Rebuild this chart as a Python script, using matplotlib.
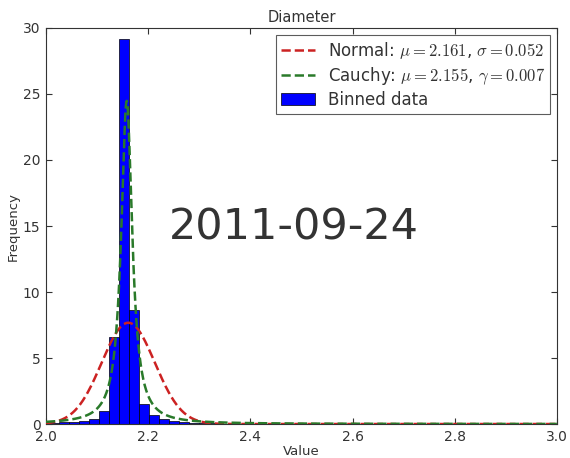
import matplotlib
matplotlib.use("Agg")
import matplotlib.pyplot as plt
import numpy as np

# histogram (density)
bin_start = 2.006
bin_width = 0.0196
bin_heights = [0.08, 0.12, 0.18, 0.25, 0.35, 1.0, 6.57, 29.2, 8.64, 1.49,
               0.68, 0.35, 0.2, 0.12, 0.08, 0.05, 0.04, 0.03, 0.02, 0.02,
               0.02, 0.01, 0.01, 0.01, 0.01, 0.01, 0.01, 0.01, 0.01, 0.01]

# fitted curves
norm_mu, norm_sigma = 2.161, 0.052
cauchy_mu, cauchy_gamma = 2.158, 0.013
norm_label = r"Normal: $\mu=2.161$, $\sigma=0.052$"
cauchy_label = r"Cauchy: $\mu=2.155$, $\gamma=0.007$"

plt.rcParams.update({
    'font.family': 'DejaVu Sans',
    'mathtext.fontset': 'cm',
    'xtick.direction': 'in',
    'ytick.direction': 'in',
    'xtick.top': True,
    'ytick.right': True,
    'xtick.major.size': 4,
    'ytick.major.size': 4,
    'xtick.major.pad': 4,
    'ytick.major.pad': 4,
    'text.color': '#333333',
    'xtick.color': '#333333',
    'ytick.color': '#333333',
    'axes.labelcolor': '#333333',
})

fig = plt.figure(figsize=(5.7, 4.58), dpi=100)
ax = fig.add_axes([0.0807, 0.0742, 0.8963, 0.8647])

edges = bin_start + bin_width * np.arange(len(bin_heights))
ax.bar(edges, bin_heights, width=bin_width, align='edge', color='#0000ff',
       edgecolor='black', linewidth=0.5, label='Binned data', zorder=2)

x = np.linspace(2.0, 3.0, 1000)
normal = np.exp(-0.5 * ((x - norm_mu) / norm_sigma) ** 2) / (norm_sigma * np.sqrt(2 * np.pi))
cauchy = 1.0 / (np.pi * cauchy_gamma * (1 + ((x - cauchy_mu) / cauchy_gamma) ** 2))
ax.plot(x, normal, '--', color='#cc2222', lw=1.8, label=norm_label, zorder=3)
ax.plot(x, cauchy, '--', color='#2a7a2a', lw=1.8, label=cauchy_label, zorder=3)

ax.set_xlim(2.0, 3.0)
ax.set_ylim(0, 30)
ax.set_xticks(np.arange(2.0, 3.01, 0.2))
ax.set_xticklabels(['2.0', '2.2', '2.4', '2.6', '2.8', '3.0'])
ax.set_yticks(np.arange(0, 31, 5))
ax.tick_params(labelsize=10)
for s in ax.spines.values():
    s.set_color('#333333')

ax.set_title('Diameter', fontsize=10.5, pad=4)
ax.set_xlabel('Value', fontsize=9.5, labelpad=1)
ax.set_ylabel('Frequency', fontsize=9.5, labelpad=2)

leg = ax.legend(loc='upper right', fontsize=12, frameon=True, fancybox=False,
                handlelength=2.0, borderpad=0.3, labelspacing=0.25,
                handletextpad=0.8, borderaxespad=0.4)
leg.get_frame().set_edgecolor('#333333')
leg.get_frame().set_linewidth(0.8)

fig.text(0.515, 0.503, '2011-09-24', fontsize=31, color='#333333',
         ha='center', va='center')

fig.savefig('out.png', dpi=100)
